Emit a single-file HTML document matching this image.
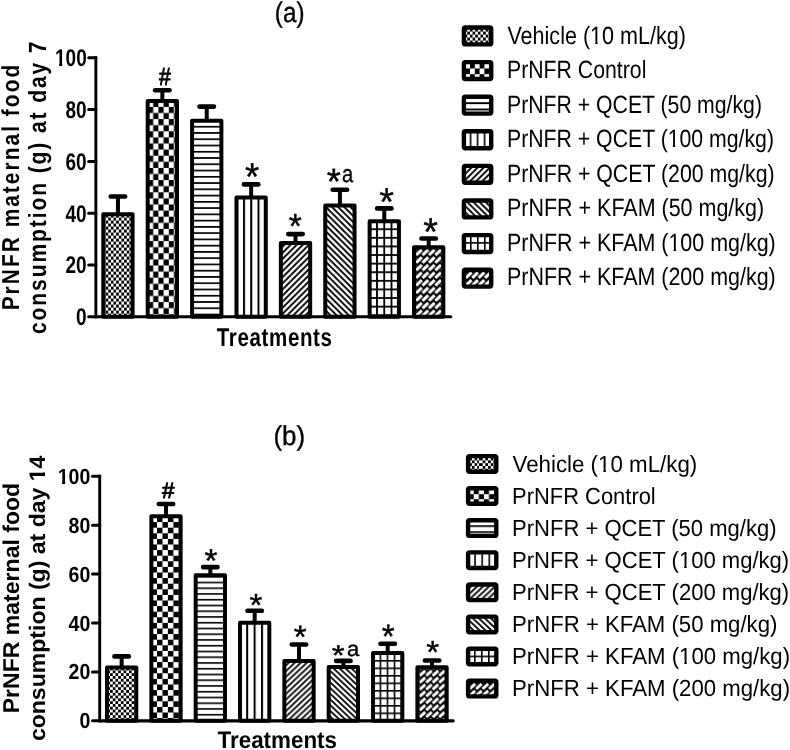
<!DOCTYPE html>
<html><head><meta charset="utf-8"><style>
html,body{margin:0;padding:0;background:#fff;}
body{width:790px;height:750px;overflow:hidden;}
svg{display:block;will-change:transform;text-rendering:geometricPrecision;font-family:"Liberation Sans",sans-serif;}
</style></head><body>
<svg width="790" height="750" viewBox="0 0 790 750">
<defs>
<pattern id="p1a" patternUnits="userSpaceOnUse" width="5.280" height="6.000" patternTransform="translate(105.600,250.600)"><rect width="5.280" height="6.000" fill="#fff"/><rect width="2.640" height="3.000" fill="#000"/><rect x="2.640" y="3.000" width="2.640" height="3.000" fill="#000"/></pattern>
<pattern id="p2a" patternUnits="userSpaceOnUse" width="10.400" height="12.200" patternTransform="translate(148.000,106.900)"><rect width="10.400" height="12.200" fill="#fff"/><rect width="5.200" height="6.100" fill="#000"/><rect x="5.200" y="6.100" width="5.200" height="6.100" fill="#000"/></pattern>
<pattern id="p3a" patternUnits="userSpaceOnUse" width="10" height="6.260" patternTransform="translate(0,251.050)"><rect width="10" height="6.260" fill="#fff"/><rect width="10" height="1.700" fill="#000"/></pattern>
<pattern id="p4a" patternUnits="userSpaceOnUse" width="7.250" height="10" patternTransform="translate(243.000,0)"><rect width="7.250" height="10" fill="#fff"/><rect width="2.000" height="10" fill="#000"/></pattern>
<pattern id="p5a" patternUnits="userSpaceOnUse" width="6.100" height="6.100" patternTransform="translate(4.700,0)"><rect width="6.100" height="6.100" fill="#fff"/><path d="M-6.100,6.100 L6.100,-6.100 M0,12.200 L12.200,0 M-6.100,12.200 L6.100,0 M0,6.100 L6.100,0" stroke="#000" stroke-width="1.9"/></pattern>
<pattern id="p6a" patternUnits="userSpaceOnUse" width="6.100" height="6.100" patternTransform="translate(3.000,0)"><rect width="6.100" height="6.100" fill="#fff"/><path d="M-6.100,-6.100 L6.100,6.100 M0,-6.100 L12.200,6.100 M-6.100,0 L6.100,12.200 M0,0 L6.100,6.100" stroke="#000" stroke-width="1.9"/></pattern>
<pattern id="p7a" patternUnits="userSpaceOnUse" width="7.250" height="8.600" patternTransform="translate(376.100,254.100)"><rect width="7.250" height="8.600" fill="#fff"/><rect width="1.800" height="8.600" fill="#000"/><rect width="7.250" height="1.800" fill="#000"/></pattern>
<pattern id="p8a" patternUnits="userSpaceOnUse" width="6.400" height="7.600" patternTransform="translate(422.200,263.800)"><rect width="6.400" height="7.600" fill="#000"/><polygon points="-0.647,5.430 4.963,0.012 7.047,2.170 1.437,7.588" fill="#fff" transform="translate(-6.400,-7.600)"/><polygon points="-0.647,5.430 4.963,0.012 7.047,2.170 1.437,7.588" fill="#fff" transform="translate(-6.400,0.000)"/><polygon points="-0.647,5.430 4.963,0.012 7.047,2.170 1.437,7.588" fill="#fff" transform="translate(-6.400,7.600)"/><polygon points="-0.647,5.430 4.963,0.012 7.047,2.170 1.437,7.588" fill="#fff" transform="translate(0.000,-7.600)"/><polygon points="-0.647,5.430 4.963,0.012 7.047,2.170 1.437,7.588" fill="#fff" transform="translate(0.000,0.000)"/><polygon points="-0.647,5.430 4.963,0.012 7.047,2.170 1.437,7.588" fill="#fff" transform="translate(0.000,7.600)"/><polygon points="-0.647,5.430 4.963,0.012 7.047,2.170 1.437,7.588" fill="#fff" transform="translate(6.400,-7.600)"/><polygon points="-0.647,5.430 4.963,0.012 7.047,2.170 1.437,7.588" fill="#fff" transform="translate(6.400,0.000)"/><polygon points="-0.647,5.430 4.963,0.012 7.047,2.170 1.437,7.588" fill="#fff" transform="translate(6.400,7.600)"/></pattern>
<pattern id="L2a" patternUnits="userSpaceOnUse" width="9.600" height="11.400" patternTransform="translate(460.400,62.800)"><rect width="9.600" height="11.400" fill="#fff"/><rect width="4.800" height="5.700" fill="#000"/><rect x="4.800" y="5.700" width="4.800" height="5.700" fill="#000"/></pattern>
<pattern id="L3a" patternUnits="userSpaceOnUse" width="10" height="6.300" patternTransform="translate(0,102.250)"><rect width="10" height="6.300" fill="#fff"/><rect width="10" height="1.900" fill="#000"/></pattern>
<pattern id="L4a" patternUnits="userSpaceOnUse" width="7.000" height="10" patternTransform="translate(469.700,0)"><rect width="7.000" height="10" fill="#fff"/><rect width="1.600" height="10" fill="#000"/></pattern>
<pattern id="L2b" patternUnits="userSpaceOnUse" width="10.200" height="10.000" patternTransform="translate(473.700,489.200)"><rect width="10.200" height="10.000" fill="#fff"/><rect width="5.100" height="5.000" fill="#000"/><rect x="5.100" y="5.000" width="5.100" height="5.000" fill="#000"/></pattern>
<pattern id="L3b" patternUnits="userSpaceOnUse" width="10" height="6.000" patternTransform="translate(0,525.250)"><rect width="10" height="6.000" fill="#fff"/><rect width="10" height="1.700" fill="#000"/></pattern>
<pattern id="L4b" patternUnits="userSpaceOnUse" width="7.100" height="10" patternTransform="translate(474.300,0)"><rect width="7.100" height="10" fill="#fff"/><rect width="1.600" height="10" fill="#000"/></pattern>
<pattern id="L7a" patternUnits="userSpaceOnUse" width="7.000" height="8.600" patternTransform="translate(470.000,242.100)"><rect width="7.000" height="8.600" fill="#fff"/><rect width="1.600" height="8.600" fill="#000"/><rect width="7.000" height="1.600" fill="#000"/></pattern>
<pattern id="L7b" patternUnits="userSpaceOnUse" width="7.000" height="7.500" patternTransform="translate(474.000,655.600)"><rect width="7.000" height="7.500" fill="#fff"/><rect width="1.600" height="7.500" fill="#000"/><rect width="7.000" height="1.600" fill="#000"/></pattern>
<pattern id="L8a" patternUnits="userSpaceOnUse" width="6.400" height="7.600" patternTransform="translate(465.500,271.400)"><rect width="6.400" height="7.600" fill="#000"/><polygon points="-0.647,5.430 4.963,0.012 7.047,2.170 1.437,7.588" fill="#fff" transform="translate(-6.400,-7.600)"/><polygon points="-0.647,5.430 4.963,0.012 7.047,2.170 1.437,7.588" fill="#fff" transform="translate(-6.400,0.000)"/><polygon points="-0.647,5.430 4.963,0.012 7.047,2.170 1.437,7.588" fill="#fff" transform="translate(-6.400,7.600)"/><polygon points="-0.647,5.430 4.963,0.012 7.047,2.170 1.437,7.588" fill="#fff" transform="translate(0.000,-7.600)"/><polygon points="-0.647,5.430 4.963,0.012 7.047,2.170 1.437,7.588" fill="#fff" transform="translate(0.000,0.000)"/><polygon points="-0.647,5.430 4.963,0.012 7.047,2.170 1.437,7.588" fill="#fff" transform="translate(0.000,7.600)"/><polygon points="-0.647,5.430 4.963,0.012 7.047,2.170 1.437,7.588" fill="#fff" transform="translate(6.400,-7.600)"/><polygon points="-0.647,5.430 4.963,0.012 7.047,2.170 1.437,7.588" fill="#fff" transform="translate(6.400,0.000)"/><polygon points="-0.647,5.430 4.963,0.012 7.047,2.170 1.437,7.588" fill="#fff" transform="translate(6.400,7.600)"/></pattern>
<pattern id="L8b" patternUnits="userSpaceOnUse" width="6.500" height="6.900" patternTransform="translate(469.150,682.950)"><rect width="6.500" height="6.900" fill="#000"/><polygon points="-0.590,4.845 5.102,-0.191 7.090,2.055 1.398,7.091" fill="#fff" transform="translate(-6.500,-6.900)"/><polygon points="-0.590,4.845 5.102,-0.191 7.090,2.055 1.398,7.091" fill="#fff" transform="translate(-6.500,0.000)"/><polygon points="-0.590,4.845 5.102,-0.191 7.090,2.055 1.398,7.091" fill="#fff" transform="translate(-6.500,6.900)"/><polygon points="-0.590,4.845 5.102,-0.191 7.090,2.055 1.398,7.091" fill="#fff" transform="translate(0.000,-6.900)"/><polygon points="-0.590,4.845 5.102,-0.191 7.090,2.055 1.398,7.091" fill="#fff" transform="translate(0.000,0.000)"/><polygon points="-0.590,4.845 5.102,-0.191 7.090,2.055 1.398,7.091" fill="#fff" transform="translate(0.000,6.900)"/><polygon points="-0.590,4.845 5.102,-0.191 7.090,2.055 1.398,7.091" fill="#fff" transform="translate(6.500,-6.900)"/><polygon points="-0.590,4.845 5.102,-0.191 7.090,2.055 1.398,7.091" fill="#fff" transform="translate(6.500,0.000)"/><polygon points="-0.590,4.845 5.102,-0.191 7.090,2.055 1.398,7.091" fill="#fff" transform="translate(6.500,6.900)"/></pattern>
<pattern id="p1b" patternUnits="userSpaceOnUse" width="5.400" height="5.600" patternTransform="translate(112.750,681.600)"><rect width="5.400" height="5.600" fill="#fff"/><rect width="2.700" height="2.800" fill="#000"/><rect x="2.700" y="2.800" width="2.700" height="2.800" fill="#000"/></pattern>
<pattern id="p2b" patternUnits="userSpaceOnUse" width="10.900" height="11.200" patternTransform="translate(157.000,606.100)"><rect width="10.900" height="11.200" fill="#fff"/><rect width="5.450" height="5.600" fill="#000"/><rect x="5.450" y="5.600" width="5.450" height="5.600" fill="#000"/></pattern>
<pattern id="p3b" patternUnits="userSpaceOnUse" width="10" height="5.750" patternTransform="translate(0,644.900)"><rect width="10" height="5.750" fill="#fff"/><rect width="10" height="1.600" fill="#000"/></pattern>
<pattern id="p4b" patternUnits="userSpaceOnUse" width="7.400" height="10" patternTransform="translate(246.200,0)"><rect width="7.400" height="10" fill="#fff"/><rect width="2.000" height="10" fill="#000"/></pattern>
<pattern id="p5b" patternUnits="userSpaceOnUse" width="6.000" height="5.700" patternTransform="translate(2.400,0)"><rect width="6.000" height="5.700" fill="#fff"/><path d="M-6.000,5.700 L6.000,-5.700 M0,11.400 L12.000,0 M-6.000,11.400 L6.000,0 M0,5.700 L6.000,0" stroke="#000" stroke-width="1.8"/></pattern>
<pattern id="p6b" patternUnits="userSpaceOnUse" width="6.000" height="5.700" patternTransform="translate(2.000,0)"><rect width="6.000" height="5.700" fill="#fff"/><path d="M-6.000,-5.700 L6.000,5.700 M0,-5.700 L12.000,5.700 M-6.000,0 L6.000,11.400 M0,0 L6.000,5.700" stroke="#000" stroke-width="1.8"/></pattern>
<pattern id="p7b" patternUnits="userSpaceOnUse" width="7.050" height="7.500" patternTransform="translate(379.600,675.000)"><rect width="7.050" height="7.500" fill="#fff"/><rect width="1.600" height="7.500" fill="#000"/><rect width="7.050" height="1.600" fill="#000"/></pattern>
<pattern id="p8b" patternUnits="userSpaceOnUse" width="6.500" height="6.900" patternTransform="translate(425.750,683.550)"><rect width="6.500" height="6.900" fill="#000"/><polygon points="-0.590,4.845 5.102,-0.191 7.090,2.055 1.398,7.091" fill="#fff" transform="translate(-6.500,-6.900)"/><polygon points="-0.590,4.845 5.102,-0.191 7.090,2.055 1.398,7.091" fill="#fff" transform="translate(-6.500,0.000)"/><polygon points="-0.590,4.845 5.102,-0.191 7.090,2.055 1.398,7.091" fill="#fff" transform="translate(-6.500,6.900)"/><polygon points="-0.590,4.845 5.102,-0.191 7.090,2.055 1.398,7.091" fill="#fff" transform="translate(0.000,-6.900)"/><polygon points="-0.590,4.845 5.102,-0.191 7.090,2.055 1.398,7.091" fill="#fff" transform="translate(0.000,0.000)"/><polygon points="-0.590,4.845 5.102,-0.191 7.090,2.055 1.398,7.091" fill="#fff" transform="translate(0.000,6.900)"/><polygon points="-0.590,4.845 5.102,-0.191 7.090,2.055 1.398,7.091" fill="#fff" transform="translate(6.500,-6.900)"/><polygon points="-0.590,4.845 5.102,-0.191 7.090,2.055 1.398,7.091" fill="#fff" transform="translate(6.500,0.000)"/><polygon points="-0.590,4.845 5.102,-0.191 7.090,2.055 1.398,7.091" fill="#fff" transform="translate(6.500,6.900)"/></pattern>
</defs>
<rect width="790" height="750" fill="#fff"/>
<line x1="95.85" y1="56.30" x2="95.85" y2="318.30" stroke="#000" stroke-width="2.9" stroke-linecap="butt"/>
<line x1="95.85" y1="316.80" x2="450.80" y2="316.80" stroke="#000" stroke-width="3.1" stroke-linecap="round"/>
<line x1="88.70" y1="316.80" x2="95.85" y2="316.80" stroke="#000" stroke-width="3.0" stroke-linecap="round"/>
<line x1="88.70" y1="265.00" x2="95.85" y2="265.00" stroke="#000" stroke-width="3.0" stroke-linecap="round"/>
<line x1="88.70" y1="213.20" x2="95.85" y2="213.20" stroke="#000" stroke-width="3.0" stroke-linecap="round"/>
<line x1="88.70" y1="161.40" x2="95.85" y2="161.40" stroke="#000" stroke-width="3.0" stroke-linecap="round"/>
<line x1="88.70" y1="109.60" x2="95.85" y2="109.60" stroke="#000" stroke-width="3.0" stroke-linecap="round"/>
<line x1="88.70" y1="57.80" x2="95.85" y2="57.80" stroke="#000" stroke-width="3.0" stroke-linecap="round"/>
<line x1="117.95" y1="196.50" x2="117.95" y2="214.30" stroke="#000" stroke-width="4" stroke-linecap="butt"/>
<line x1="110.75" y1="196.50" x2="125.15" y2="196.50" stroke="#000" stroke-width="4.6" stroke-linecap="round"/>
<rect x="103.30" y="214.30" width="29.30" height="102.50" fill="url(#p1a)" stroke="#000" stroke-width="4.0" stroke-linejoin="round"/>
<line x1="162.34" y1="90.30" x2="162.34" y2="101.00" stroke="#000" stroke-width="4" stroke-linecap="butt"/>
<line x1="155.14" y1="90.30" x2="169.54" y2="90.30" stroke="#000" stroke-width="4.6" stroke-linecap="round"/>
<rect x="147.69" y="101.00" width="29.30" height="215.80" fill="url(#p2a)" stroke="#000" stroke-width="4.0" stroke-linejoin="round"/>
<line x1="206.73" y1="106.60" x2="206.73" y2="120.70" stroke="#000" stroke-width="4" stroke-linecap="butt"/>
<line x1="199.53" y1="106.60" x2="213.93" y2="106.60" stroke="#000" stroke-width="4.6" stroke-linecap="round"/>
<rect x="192.08" y="120.70" width="29.30" height="196.10" fill="url(#p3a)" stroke="#000" stroke-width="4.0" stroke-linejoin="round"/>
<line x1="251.12" y1="184.40" x2="251.12" y2="197.40" stroke="#000" stroke-width="4" stroke-linecap="butt"/>
<line x1="243.92" y1="184.40" x2="258.32" y2="184.40" stroke="#000" stroke-width="4.6" stroke-linecap="round"/>
<rect x="236.47" y="197.40" width="29.30" height="119.40" fill="url(#p4a)" stroke="#000" stroke-width="4.0" stroke-linejoin="round"/>
<line x1="295.51" y1="234.10" x2="295.51" y2="243.00" stroke="#000" stroke-width="4" stroke-linecap="butt"/>
<line x1="288.31" y1="234.10" x2="302.71" y2="234.10" stroke="#000" stroke-width="4.6" stroke-linecap="round"/>
<rect x="280.86" y="243.00" width="29.30" height="73.80" fill="url(#p5a)" stroke="#000" stroke-width="4.0" stroke-linejoin="round"/>
<line x1="339.90" y1="189.80" x2="339.90" y2="205.60" stroke="#000" stroke-width="4" stroke-linecap="butt"/>
<line x1="332.70" y1="189.80" x2="347.10" y2="189.80" stroke="#000" stroke-width="4.6" stroke-linecap="round"/>
<rect x="325.25" y="205.60" width="29.30" height="111.20" fill="url(#p6a)" stroke="#000" stroke-width="4.0" stroke-linejoin="round"/>
<line x1="384.29" y1="208.40" x2="384.29" y2="221.20" stroke="#000" stroke-width="4" stroke-linecap="butt"/>
<line x1="377.09" y1="208.40" x2="391.49" y2="208.40" stroke="#000" stroke-width="4.6" stroke-linecap="round"/>
<rect x="369.64" y="221.20" width="29.30" height="95.60" fill="url(#p7a)" stroke="#000" stroke-width="4.0" stroke-linejoin="round"/>
<line x1="428.68" y1="238.50" x2="428.68" y2="247.20" stroke="#000" stroke-width="4" stroke-linecap="butt"/>
<line x1="421.48" y1="238.50" x2="435.88" y2="238.50" stroke="#000" stroke-width="4.6" stroke-linecap="round"/>
<rect x="414.03" y="247.20" width="29.30" height="69.60" fill="url(#p8a)" stroke="#000" stroke-width="4.0" stroke-linejoin="round"/>
<rect x="463.90" y="27.50" width="27.30" height="16.90" rx="1.5" fill="url(#p1a)" stroke="#000" stroke-width="4.4"/>
<rect x="463.90" y="62.10" width="27.30" height="16.90" rx="1.5" fill="url(#L2a)" stroke="#000" stroke-width="4.4"/>
<rect x="463.90" y="96.70" width="27.30" height="16.90" rx="1.5" fill="url(#L3a)" stroke="#000" stroke-width="4.4"/>
<rect x="463.90" y="131.30" width="27.30" height="16.90" rx="1.5" fill="url(#L4a)" stroke="#000" stroke-width="4.4"/>
<rect x="463.90" y="165.90" width="27.30" height="16.90" rx="1.5" fill="url(#p5a)" stroke="#000" stroke-width="4.4"/>
<rect x="463.90" y="200.50" width="27.30" height="16.90" rx="1.5" fill="url(#p6a)" stroke="#000" stroke-width="4.4"/>
<rect x="463.90" y="235.10" width="27.30" height="16.90" rx="1.5" fill="url(#L7a)" stroke="#000" stroke-width="4.4"/>
<rect x="463.90" y="269.70" width="27.30" height="16.90" rx="1.5" fill="url(#L8a)" stroke="#000" stroke-width="4.4"/>
<line x1="99.70" y1="474.70" x2="99.70" y2="722.35" stroke="#000" stroke-width="2.9" stroke-linecap="butt"/>
<line x1="99.70" y1="720.85" x2="453.20" y2="720.85" stroke="#000" stroke-width="3.1" stroke-linecap="round"/>
<line x1="92.50" y1="720.85" x2="99.70" y2="720.85" stroke="#000" stroke-width="3.0" stroke-linecap="round"/>
<line x1="92.50" y1="671.92" x2="99.70" y2="671.92" stroke="#000" stroke-width="3.0" stroke-linecap="round"/>
<line x1="92.50" y1="622.99" x2="99.70" y2="622.99" stroke="#000" stroke-width="3.0" stroke-linecap="round"/>
<line x1="92.50" y1="574.06" x2="99.70" y2="574.06" stroke="#000" stroke-width="3.0" stroke-linecap="round"/>
<line x1="92.50" y1="525.13" x2="99.70" y2="525.13" stroke="#000" stroke-width="3.0" stroke-linecap="round"/>
<line x1="92.50" y1="476.20" x2="99.70" y2="476.20" stroke="#000" stroke-width="3.0" stroke-linecap="round"/>
<line x1="121.65" y1="656.40" x2="121.65" y2="667.40" stroke="#000" stroke-width="4" stroke-linecap="butt"/>
<line x1="114.45" y1="656.40" x2="128.85" y2="656.40" stroke="#000" stroke-width="4.6" stroke-linecap="round"/>
<rect x="107.00" y="667.40" width="29.30" height="53.45" fill="url(#p1b)" stroke="#000" stroke-width="4.0" stroke-linejoin="round"/>
<line x1="165.99" y1="504.00" x2="165.99" y2="516.30" stroke="#000" stroke-width="4" stroke-linecap="butt"/>
<line x1="158.79" y1="504.00" x2="173.19" y2="504.00" stroke="#000" stroke-width="4.6" stroke-linecap="round"/>
<rect x="151.34" y="516.30" width="29.30" height="204.55" fill="url(#p2b)" stroke="#000" stroke-width="4.0" stroke-linejoin="round"/>
<line x1="210.33" y1="567.10" x2="210.33" y2="575.30" stroke="#000" stroke-width="4" stroke-linecap="butt"/>
<line x1="203.13" y1="567.10" x2="217.53" y2="567.10" stroke="#000" stroke-width="4.6" stroke-linecap="round"/>
<rect x="195.68" y="575.30" width="29.30" height="145.55" fill="url(#p3b)" stroke="#000" stroke-width="4.0" stroke-linejoin="round"/>
<line x1="254.67" y1="610.80" x2="254.67" y2="622.70" stroke="#000" stroke-width="4" stroke-linecap="butt"/>
<line x1="247.47" y1="610.80" x2="261.87" y2="610.80" stroke="#000" stroke-width="4.6" stroke-linecap="round"/>
<rect x="240.02" y="622.70" width="29.30" height="98.15" fill="url(#p4b)" stroke="#000" stroke-width="4.0" stroke-linejoin="round"/>
<line x1="299.01" y1="644.50" x2="299.01" y2="660.90" stroke="#000" stroke-width="4" stroke-linecap="butt"/>
<line x1="291.81" y1="644.50" x2="306.21" y2="644.50" stroke="#000" stroke-width="4.6" stroke-linecap="round"/>
<rect x="284.36" y="660.90" width="29.30" height="59.95" fill="url(#p5b)" stroke="#000" stroke-width="4.0" stroke-linejoin="round"/>
<line x1="343.35" y1="660.90" x2="343.35" y2="667.10" stroke="#000" stroke-width="4" stroke-linecap="butt"/>
<line x1="336.15" y1="660.90" x2="350.55" y2="660.90" stroke="#000" stroke-width="4.6" stroke-linecap="round"/>
<rect x="328.70" y="667.10" width="29.30" height="53.75" fill="url(#p6b)" stroke="#000" stroke-width="4.0" stroke-linejoin="round"/>
<line x1="387.69" y1="643.80" x2="387.69" y2="653.10" stroke="#000" stroke-width="4" stroke-linecap="butt"/>
<line x1="380.49" y1="643.80" x2="394.89" y2="643.80" stroke="#000" stroke-width="4.6" stroke-linecap="round"/>
<rect x="373.04" y="653.10" width="29.30" height="67.75" fill="url(#p7b)" stroke="#000" stroke-width="4.0" stroke-linejoin="round"/>
<line x1="432.03" y1="660.50" x2="432.03" y2="667.30" stroke="#000" stroke-width="4" stroke-linecap="butt"/>
<line x1="424.83" y1="660.50" x2="439.23" y2="660.50" stroke="#000" stroke-width="4.6" stroke-linecap="round"/>
<rect x="417.38" y="667.30" width="29.30" height="53.55" fill="url(#p8b)" stroke="#000" stroke-width="4.0" stroke-linejoin="round"/>
<rect x="468.10" y="456.10" width="28.20" height="15.60" rx="1.5" fill="url(#p1b)" stroke="#000" stroke-width="4.4"/>
<rect x="468.10" y="488.20" width="28.20" height="15.60" rx="1.5" fill="url(#L2b)" stroke="#000" stroke-width="4.4"/>
<rect x="468.10" y="520.30" width="28.20" height="15.60" rx="1.5" fill="url(#L3b)" stroke="#000" stroke-width="4.4"/>
<rect x="468.10" y="552.40" width="28.20" height="15.60" rx="1.5" fill="url(#L4b)" stroke="#000" stroke-width="4.4"/>
<rect x="468.10" y="584.50" width="28.20" height="15.60" rx="1.5" fill="url(#p5b)" stroke="#000" stroke-width="4.4"/>
<rect x="468.10" y="616.60" width="28.20" height="15.60" rx="1.5" fill="url(#p6b)" stroke="#000" stroke-width="4.4"/>
<rect x="468.10" y="648.70" width="28.20" height="15.60" rx="1.5" fill="url(#L7b)" stroke="#000" stroke-width="4.4"/>
<rect x="468.10" y="680.80" width="28.20" height="15.60" rx="1.5" fill="url(#L8b)" stroke="#000" stroke-width="4.4"/>
<g transform="translate(274.82,21.68) scale(0.8596,1)"><text id="t1" font-size="28.29" font-weight="normal" stroke="#000" stroke-width="0.35" stroke-linejoin="round">(a)</text></g>
<g transform="translate(216.79,346.00) scale(0.8000,1)"><text id="t2" font-size="25.65" font-weight="bold" letter-spacing="0.798">Treatments</text></g>
<g transform="translate(19.46,310.35) rotate(-90) scale(0.8500,1)"><text id="t3" font-size="24.49" font-weight="bold" letter-spacing="2.441">PrNFR maternal food</text></g>
<g transform="translate(45.59,334.04) rotate(-90) scale(0.8500,1)"><text id="t4" font-size="24.81" font-weight="bold" letter-spacing="2.209">consumption (g) at day 7</text></g>
<g transform="translate(158.94,84.65) scale(0.8526,1)"><text id="t5" font-size="24.96" font-weight="normal" stroke="#000" stroke-width="0.9" stroke-linejoin="round">#</text></g>
<g transform="translate(244.97,189.71) scale(0.9412,1)"><text id="t6" font-size="38.86" font-weight="normal" stroke="#000" stroke-width="0.4" stroke-linejoin="round">*</text></g>
<g transform="translate(288.83,237.95) scale(0.9590,1)"><text id="t7" font-size="34.86" font-weight="normal" stroke="#000" stroke-width="0.4" stroke-linejoin="round">*</text></g>
<g transform="translate(326.67,194.33) scale(0.9845,1)"><text id="t8" font-size="36.86" font-weight="normal" stroke="#000" stroke-width="0.4" stroke-linejoin="round">*</text></g>
<g transform="translate(342.07,181.88) scale(0.8343,1)"><text id="t9" font-size="24.09" font-weight="normal" stroke="#000" stroke-width="0.35" stroke-linejoin="round">a</text></g>
<g transform="translate(379.25,215.01) scale(0.9706,1)"><text id="t10" font-size="38.86" font-weight="normal" stroke="#000" stroke-width="0.4" stroke-linejoin="round">*</text></g>
<g transform="translate(423.25,245.01) scale(0.9706,1)"><text id="t11" font-size="38.86" font-weight="normal" stroke="#000" stroke-width="0.4" stroke-linejoin="round">*</text></g>
<g transform="translate(273.42,445.11) scale(0.9535,1)"><text id="t12" font-size="27.22" font-weight="normal" stroke="#000" stroke-width="0.35" stroke-linejoin="round">(b)</text></g>
<g transform="translate(217.58,748.30) scale(0.9361,1)"><text id="t13" font-size="23.91" font-weight="bold">Treatments</text></g>
<g transform="translate(18.77,713.30) rotate(-90) scale(1.0080,1)"><text id="t14" font-size="22.86" font-weight="bold">PrNFR maternal food</text></g>
<g transform="translate(45.28,741.12) rotate(-90) scale(1.0264,1)"><text id="t15" font-size="22.46" font-weight="bold">consumption (g) at day 14</text><rect x="253.83" y="-3.49" width="4.38" height="4.29" fill="#fff"/><rect x="261.79" y="-3.49" width="4.09" height="4.29" fill="#fff"/></g>
<g transform="translate(162.04,497.75) scale(0.9957,1)"><text id="t16" font-size="22.48" font-weight="normal" stroke="#000" stroke-width="0.9" stroke-linejoin="round">#</text></g>
<g transform="translate(204.54,571.97) scale(1.0000,1)"><text id="t17" font-size="33.14" font-weight="normal" stroke="#000" stroke-width="0.4" stroke-linejoin="round">*</text></g>
<g transform="translate(249.54,615.98) scale(1.0357,1)"><text id="t18" font-size="32.00" font-weight="normal" stroke="#000" stroke-width="0.4" stroke-linejoin="round">*</text></g>
<g transform="translate(293.84,647.97) scale(1.0175,1)"><text id="t19" font-size="32.57" font-weight="normal" stroke="#000" stroke-width="0.4" stroke-linejoin="round">*</text></g>
<g transform="translate(331.84,665.21) scale(1.1600,1)"><text id="t20" font-size="28.57" font-weight="normal" stroke="#000" stroke-width="0.4" stroke-linejoin="round">*</text></g>
<g transform="translate(346.88,655.61) scale(1.0414,1)"><text id="t21" font-size="21.18" font-weight="normal" stroke="#000" stroke-width="0.35" stroke-linejoin="round">a</text></g>
<g transform="translate(381.64,647.66) scale(0.9748,1)"><text id="t22" font-size="34.00" font-weight="normal" stroke="#000" stroke-width="0.4" stroke-linejoin="round">*</text></g>
<g transform="translate(426.14,663.38) scale(1.0357,1)"><text id="t23" font-size="32.00" font-weight="normal" stroke="#000" stroke-width="0.4" stroke-linejoin="round">*</text></g>
<g transform="translate(507.39,44.00) scale(0.8653,1)"><text id="t24" font-size="24.93" font-weight="normal">Vehicle (10 mL/kg)</text><rect x="96.68" y="-3.06" width="4.92" height="3.86" fill="#fff"/><rect x="104.30" y="-3.06" width="4.72" height="3.86" fill="#fff"/></g>
<g transform="translate(507.00,78.48) scale(0.8530,1)"><text id="t25" font-size="24.93" font-weight="normal">PrNFR Control</text></g>
<g transform="translate(507.00,112.96) scale(0.8517,1)"><text id="t26" font-size="24.93" font-weight="normal">PrNFR + QCET (50 mg/kg)</text></g>
<g transform="translate(507.00,147.44) scale(0.8524,1)"><text id="t27" font-size="24.93" font-weight="normal">PrNFR + QCET (100 mg/kg)</text><rect x="189.63" y="-3.06" width="4.92" height="3.86" fill="#fff"/><rect x="197.25" y="-3.06" width="4.72" height="3.86" fill="#fff"/></g>
<g transform="translate(507.00,181.92) scale(0.8543,1)"><text id="t28" font-size="24.93" font-weight="normal">PrNFR + QCET (200 mg/kg)</text></g>
<g transform="translate(506.98,216.40) scale(0.8617,1)"><text id="t29" font-size="24.93" font-weight="normal">PrNFR + KFAM (50 mg/kg)</text></g>
<g transform="translate(506.98,250.88) scale(0.8606,1)"><text id="t30" font-size="24.93" font-weight="normal">PrNFR + KFAM (100 mg/kg)</text><rect x="188.71" y="-3.06" width="4.92" height="3.86" fill="#fff"/><rect x="196.33" y="-3.06" width="4.72" height="3.86" fill="#fff"/></g>
<g transform="translate(506.98,285.36) scale(0.8606,1)"><text id="t31" font-size="24.93" font-weight="normal">PrNFR + KFAM (200 mg/kg)</text></g>
<g transform="translate(512.49,471.50) scale(0.9563,1)"><text id="t32" font-size="23.33" font-weight="normal">Vehicle (10 mL/kg)</text><rect x="90.45" y="-2.94" width="4.64" height="3.74" fill="#fff"/><rect x="97.65" y="-2.94" width="4.46" height="3.74" fill="#fff"/></g>
<g transform="translate(512.05,503.60) scale(0.9394,1)"><text id="t33" font-size="23.33" font-weight="normal">PrNFR Control</text></g>
<g transform="translate(512.04,535.70) scale(0.9438,1)"><text id="t34" font-size="23.33" font-weight="normal">PrNFR + QCET (50 mg/kg)</text></g>
<g transform="translate(512.04,567.80) scale(0.9454,1)"><text id="t35" font-size="23.33" font-weight="normal">PrNFR + QCET (100 mg/kg)</text><rect x="177.46" y="-2.94" width="4.64" height="3.74" fill="#fff"/><rect x="184.66" y="-2.94" width="4.46" height="3.74" fill="#fff"/></g>
<g transform="translate(512.04,599.90) scale(0.9454,1)"><text id="t36" font-size="23.33" font-weight="normal">PrNFR + QCET (200 mg/kg)</text></g>
<g transform="translate(512.03,632.00) scale(0.9499,1)"><text id="t37" font-size="23.33" font-weight="normal">PrNFR + KFAM (50 mg/kg)</text></g>
<g transform="translate(512.02,664.10) scale(0.9512,1)"><text id="t38" font-size="23.33" font-weight="normal">PrNFR + KFAM (100 mg/kg)</text><rect x="176.59" y="-2.94" width="4.64" height="3.74" fill="#fff"/><rect x="183.79" y="-2.94" width="4.46" height="3.74" fill="#fff"/></g>
<g transform="translate(512.02,696.20) scale(0.9512,1)"><text id="t39" font-size="23.33" font-weight="normal">PrNFR + KFAM (200 mg/kg)</text></g>
<g transform="translate(54.96,66.11) scale(0.7905,1)"><text id="t40" font-size="24.08" font-weight="bold">100</text><rect x="0.72" y="-3.66" width="4.65" height="4.46" fill="#fff"/><rect x="9.18" y="-3.66" width="4.35" height="4.46" fill="#fff"/></g>
<g transform="translate(65.53,117.91) scale(0.7905,1)"><text id="t41" font-size="24.08" font-weight="bold">80</text></g>
<g transform="translate(65.53,169.71) scale(0.7905,1)"><text id="t42" font-size="24.08" font-weight="bold">60</text></g>
<g transform="translate(65.53,221.51) scale(0.7905,1)"><text id="t43" font-size="24.08" font-weight="bold">40</text></g>
<g transform="translate(65.53,273.31) scale(0.7905,1)"><text id="t44" font-size="24.08" font-weight="bold">20</text></g>
<g transform="translate(76.10,325.11) scale(0.7905,1)"><text id="t45" font-size="24.08" font-weight="bold">0</text></g>
<g transform="translate(57.73,483.73) scale(0.8956,1)"><text id="t46" font-size="21.83" font-weight="bold">100</text><rect x="0.58" y="-3.43" width="4.27" height="4.23" fill="#fff"/><rect x="8.34" y="-3.43" width="3.99" height="4.23" fill="#fff"/></g>
<g transform="translate(68.58,532.66) scale(0.8956,1)"><text id="t47" font-size="21.83" font-weight="bold">80</text></g>
<g transform="translate(68.58,581.59) scale(0.8956,1)"><text id="t48" font-size="21.83" font-weight="bold">60</text></g>
<g transform="translate(68.58,630.52) scale(0.8956,1)"><text id="t49" font-size="21.83" font-weight="bold">40</text></g>
<g transform="translate(68.58,679.45) scale(0.8956,1)"><text id="t50" font-size="21.83" font-weight="bold">20</text></g>
<g transform="translate(79.43,728.38) scale(0.8956,1)"><text id="t51" font-size="21.83" font-weight="bold">0</text></g>
</svg></body></html>
